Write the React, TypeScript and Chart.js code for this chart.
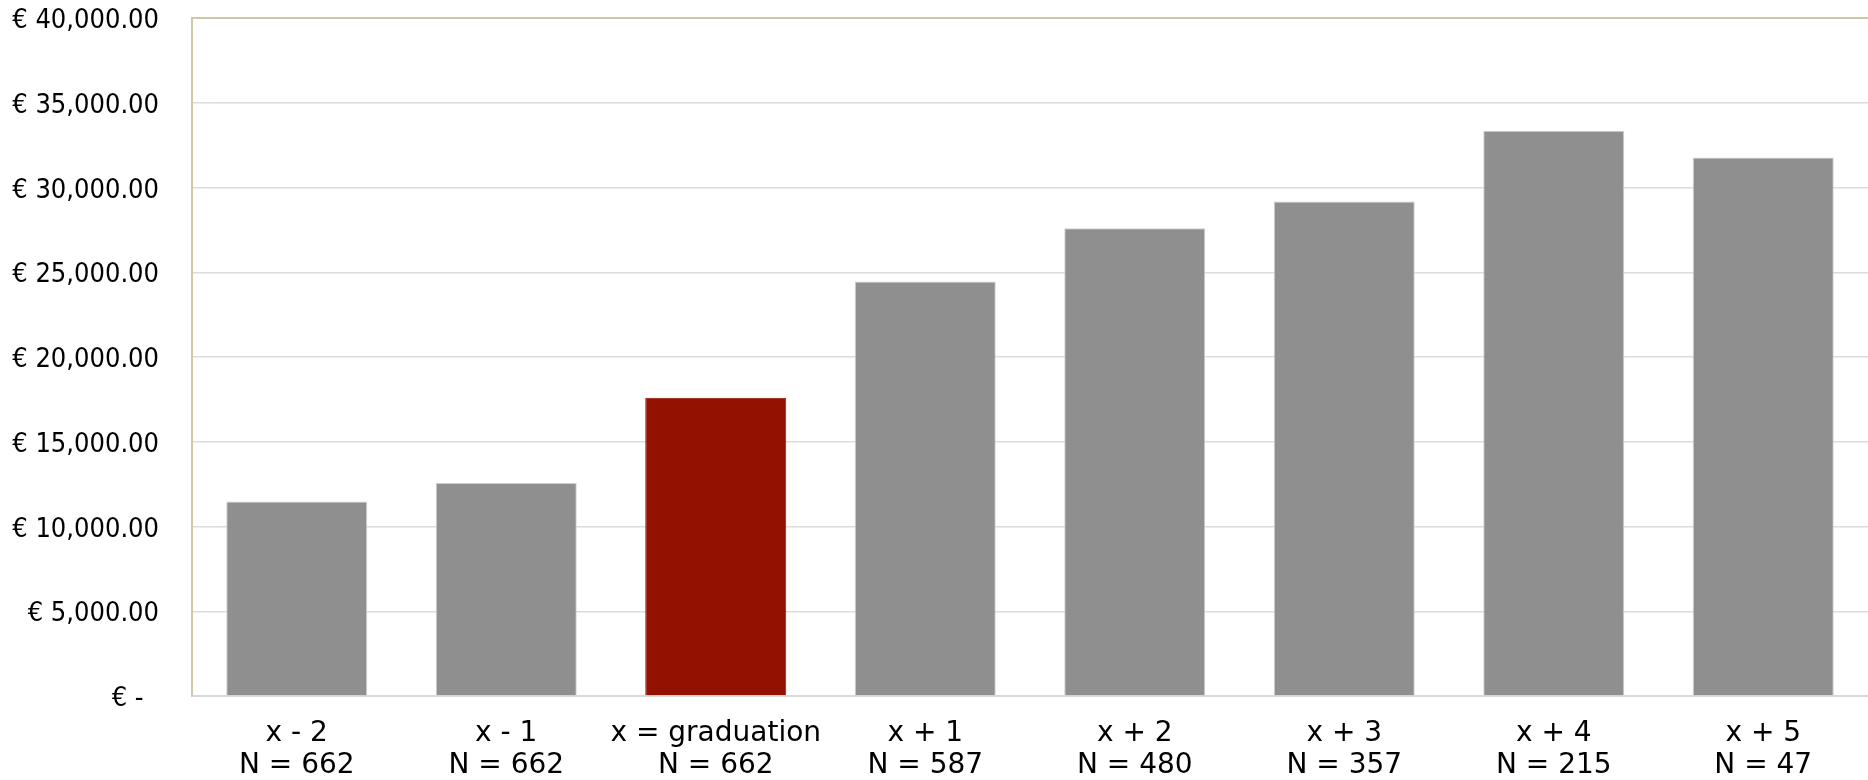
import React, { useEffect, useRef } from "react";
import { Chart, registerables } from "chart.js";

Chart.register(...registerables);

const periods = ["x - 2", "x - 1", "x = graduation", "x + 1", "x + 2", "x + 3", "x + 4", "x + 5"];
const counts = [662, 662, 662, 587, 480, 357, 215, 47];
const salaries = [11476, 12559, 17598, 24449, 27598, 29173, 33353, 31765];
const highlightIndex = 2;

const yMax = 40000;
const yStep = 5000;

const GREY = "#8f8f8f";
const RED = "#931100";
const TICK_FONT = "'DejaVu Sans Condensed', 'DejaVu Sans', Verdana, sans-serif";
const LABEL_FONT = "'DejaVu Sans', Verdana, sans-serif";

function euro(v: number): string {
  if (v === 0) return "€ -\u00a0\u00a0";
  return "€ " + v.toLocaleString("en-US", { minimumFractionDigits: 2, maximumFractionDigits: 2 });
}

export default function App() {
  const ref = useRef<HTMLCanvasElement | null>(null);

  useEffect(() => {
    document.body.style.margin = "0";
    const ctx = ref.current;
    if (!ctx) return;
    const labels = periods.map((p, i) => [p, "N = " + counts[i]]);
    const chart = new Chart(ctx, {
      type: "bar",
      data: {
        labels,
        datasets: [
          {
            data: salaries,
            backgroundColor: salaries.map((_, i) => (i === highlightIndex ? RED : GREY)),
            borderColor: salaries.map((_, i) => (i === highlightIndex ? RED : "#cfcfcf")),
            borderWidth: 1,
            categoryPercentage: 1,
            barPercentage: 0.673,
          },
        ],
      },
      options: {
        responsive: false,
        animation: false,
        layout: { padding: { top: 18, right: 0, left: 0, bottom: 0 } },
        plugins: { legend: { display: false }, tooltip: { enabled: false } },
        scales: {
          x: {
            grid: { color: "rgba(0,0,0,0)", drawTicks: true, tickLength: 22, tickColor: "rgba(0,0,0,0)" },
            border: { color: "#d9d9d9", width: 2 },
            ticks: {
              color: "#000",
              padding: 0,
              maxRotation: 0,
              autoSkip: false,
              font: { family: LABEL_FONT, size: 28, lineHeight: 1.143 },
            },
            afterFit: (s: any) => {
              s.height = 84;
            },
          },
          y: {
            min: 0,
            max: yMax,
            ticks: {
              stepSize: yStep,
              color: "#000",
              padding: 0,
              labelOffset: 3,
              font: { family: TICK_FONT, size: 27 },
              callback: (v: any) => euro(Number(v)),
            },
            grid: {
              drawTicks: true,
              tickLength: 33,
              tickColor: "rgba(0,0,0,0)",
              color: (c: any) => (c.tick && c.tick.value === yMax ? "#cfc8a8" : "#dcdcdc"),
              lineWidth: (c: any) => (c.tick && c.tick.value === yMax ? 2 : 1.5),
            },
            border: { color: "#cfc8a8", width: 2 },
            afterFit: (s: any) => {
              s.width = 192;
            },
          },
        },
      },
    });
    return () => chart.destroy();
  }, []);

  return (
    <div style={{ position: "absolute", left: 0, top: 0, width: 1868, height: 780, background: "#fff" }}>
      <canvas ref={ref} width={1868} height={780} style={{ display: "block" }} />
    </div>
  );
}
